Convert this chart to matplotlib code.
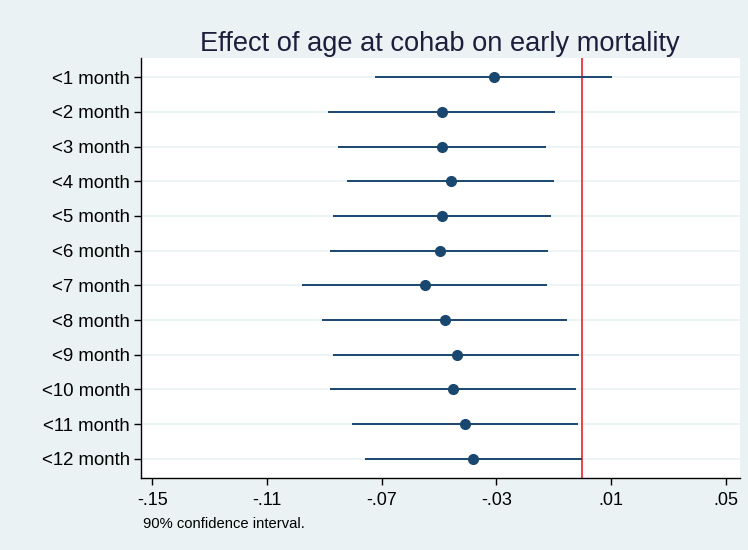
import matplotlib.pyplot as plt

plt.rcParams['font.family'] = ['Liberation Sans', 'DejaVu Sans']

labels = ['<1 month', '<2 month', '<3 month', '<4 month', '<5 month', '<6 month',
          '<7 month', '<8 month', '<9 month', '<10 month', '<11 month', '<12 month']
coef = [-0.0309, -0.0489, -0.0489, -0.0460, -0.0489, -0.0498,
        -0.0549, -0.0480, -0.0439, -0.0451, -0.0410, -0.0381]
ci_low = [-0.0723, -0.0886, -0.0852, -0.0822, -0.0869, -0.0879,
          -0.0978, -0.0908, -0.0869, -0.0879, -0.0805, -0.0758]
ci_high = [0.0102, -0.0096, -0.0128, -0.0099, -0.0111, -0.0121,
           -0.0124, -0.0053, -0.0012, -0.0023, -0.0015, -0.0001]
xticks = [-0.15, -0.11, -0.07, -0.03, 0.01, 0.05]
xtick_labels = ['-.15', '-.11', '-.07', '-.03', '.01', '.05']

bg = '#eaf2f3'
navy = '#1a476f'

fig = plt.figure(figsize=(7.48, 5.5), dpi=100, facecolor=bg)
ax = fig.add_axes([0.1885, 0.131, 0.8005, 0.7635])
ax.set_facecolor('white')

ypos = list(range(1, len(labels) + 1))
for y in ypos:
    ax.axhline(y, color=bg, lw=1.2, zorder=0)

ax.axvline(0, color='#e8222b', lw=1.2, zorder=1)
ax.hlines(ypos, ci_low, ci_high, color=navy, lw=1.4, zorder=2)
ax.plot(coef, ypos, 'o', color=navy, ms=7, zorder=3)

ax.set_xlim(-0.154, 0.0549)
ax.set_ylim(12.55, 0.45)
ax.set_yticks(ypos)
ax.set_yticklabels(labels, fontsize=13.4)
ax.set_xticks(xticks)
ax.set_xticklabels(xtick_labels, fontsize=13)
ax.tick_params(axis='both', direction='out', length=5, width=1, color='black')
ax.tick_params(axis='y', pad=3)
ax.tick_params(axis='x', pad=5)
for s in ['top', 'right']:
    ax.spines[s].set_visible(False)
for s in ['left', 'bottom']:
    ax.spines[s].set_color('black')
    ax.spines[s].set_linewidth(1)

fig.text(0.588, 0.92, 'Effect of age at cohab on early mortality',
         ha='center', va='center', fontsize=19.6, color='#1e1e3c')
fig.text(0.191, 0.048, '90% confidence interval.', ha='left', va='center', fontsize=10.6)

fig.savefig('out.png', dpi=100, facecolor=bg)
